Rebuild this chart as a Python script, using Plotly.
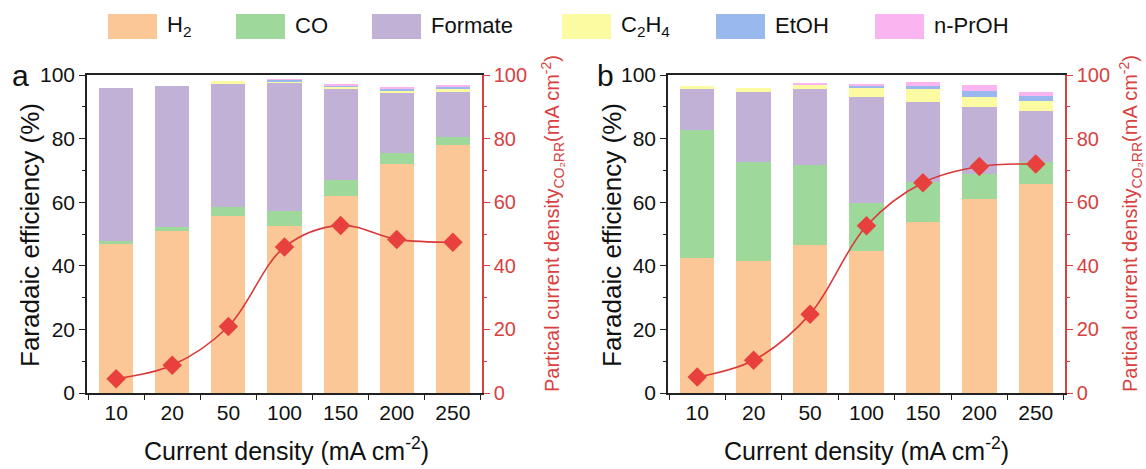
import plotly.graph_objects as go

W, H = 1146, 469

# Current densities (categorical x)
categories = ["10", "20", "50", "100", "150", "200", "250"]

# Panel a: Faradaic efficiencies (%)
a_h2 = [46.9, 50.9, 55.6, 52.4, 61.9, 72.1, 77.9]
a_co = [0.9, 1.2, 2.8, 4.9, 5.0, 3.3, 2.5]
a_formate = [48.0, 44.3, 38.8, 40.2, 28.7, 19.0, 14.3]
a_c2h4 = [0.0, 0.0, 0.9, 0.4, 0.7, 0.8, 0.9]
a_etoh = [0.0, 0.0, 0.0, 0.6, 0.5, 0.6, 0.7]
a_nproh = [0.0, 0.0, 0.0, 0.2, 0.4, 0.4, 0.5]
a_partial = [4.5, 8.7, 20.9, 45.9, 52.7, 48.3, 47.4]

# Panel b: Faradaic efficiencies (%)
b_h2 = [42.6, 41.4, 46.6, 44.8, 53.7, 60.9, 65.6]
b_co = [40.1, 31.1, 25.1, 14.8, 12.5, 8.0, 6.9]
b_formate = [12.9, 22.0, 23.8, 33.6, 25.3, 21.1, 16.3]
b_c2h4 = [0.9, 1.3, 1.4, 2.6, 4.2, 3.2, 2.9]
b_etoh = [0.0, 0.0, 0.0, 0.8, 0.8, 1.8, 1.8]
b_nproh = [0.0, 0.0, 0.3, 0.7, 1.3, 1.7, 1.0]
b_partial = [5.0, 10.3, 24.8, 52.6, 66.1, 71.2, 72.0]

product_names = ["H<sub>2</sub>", "CO", "Formate", "C<sub>2</sub>H<sub>4</sub>", "EtOH", "n-PrOH"]
product_colors = ["#FBC797", "#9FD89B", "#C1B1D6", "#FDFBA2", "#98B8EE", "#FAB5F0"]
line_color = "#D9393A"
marker_color = "#E8403D"
axis_red = "#D94040"

FONT = "Liberation Sans, Arial, sans-serif"

fig = go.Figure()

panels = [
    ("x", "y", "y2", [a_h2, a_co, a_formate, a_c2h4, a_etoh, a_nproh], a_partial),
    ("x2", "y3", "y4", [b_h2, b_co, b_formate, b_c2h4, b_etoh, b_nproh], b_partial),
]

for xa, ya, ya2, series, partial in panels:
    for name, color, vals in zip(product_names, product_colors, series):
        fig.add_trace(go.Bar(
            x=categories, y=vals, name=name, xaxis=xa, yaxis=ya,
            marker=dict(color=color, line=dict(width=0)),
            showlegend=False,
        ))
    fig.add_trace(go.Scatter(
        x=categories, y=partial, xaxis=xa, yaxis=ya2, mode="lines+markers",
        line=dict(color=line_color, width=1.6, shape="spline", smoothing=1.0),
        marker=dict(symbol="diamond", size=15, color=marker_color),
        showlegend=False,
    ))


def px_x(p):
    return p / W


def px_y(p):
    return 1 - p / H


dom_a = [px_x(87), px_x(482)]
dom_b = [px_x(668), px_x(1065)]
dom_y = [px_y(393), px_y(75)]

tick_font = dict(family=FONT, size=21, color="#111111")
red_font = dict(family=FONT, size=20, color=axis_red)


def xaxis_cfg(domain, anchor):
    return dict(
        domain=domain, anchor=anchor, type="category", automargin=False,
        showline=True, linecolor="#222222", linewidth=1.5, mirror=True,
        ticks="outside", tickson="boundaries", ticklen=5, tickcolor="#222222",
        tickfont=tick_font, showgrid=False, zeroline=False,
    )


def yaxis_left(anchor):
    return dict(
        domain=dom_y, anchor=anchor, range=[0, 100], automargin=False,
        showline=True, linecolor="#222222", linewidth=1.5,
        ticks="outside", ticklen=6, tickcolor="#222222", dtick=20,
        minor=dict(ticks="outside", dtick=10, ticklen=3, tickcolor="#222222"),
        tickfont=tick_font, showgrid=False, zeroline=False,
    )


def yaxis_right(anchor, over):
    return dict(
        domain=dom_y, anchor=anchor, overlaying=over, side="right", range=[0, 100],
        automargin=False,
        showline=True, linecolor=axis_red, linewidth=1.5,
        ticks="outside", ticklen=6, tickcolor=axis_red, dtick=20,
        minor=dict(ticks="outside", dtick=10, ticklen=3, tickcolor=axis_red),
        tickfont=red_font, showgrid=False, zeroline=False,
    )


def label(text, x, y, size, color="#111111", angle=0, xanchor="center"):
    return dict(text=text, x=px_x(x), y=px_y(y), xref="paper", yref="paper",
                xanchor=xanchor, yanchor="middle", textangle=angle, showarrow=False,
                font=dict(family=FONT, size=size, color=color))


annotations = []
shapes = []

# Panel letters
annotations.append(label("a", 20, 76, 30))
annotations.append(label("b", 606, 76, 30))

left_title = "Faradaic efficiency (%)"
right_title = "Partical current density<sub>CO₂RR</sub>(mA cm<sup>-2</sup>)"
x_title = "Current density (mA cm<sup>-2</sup>)"

for lx, rx, cx in [(30, 552, 286), (612, 1130, 866)]:
    annotations.append(label(left_title, lx, 235, 26, angle=-90))
    annotations.append(label(right_title, rx, 224, 20, color=axis_red, angle=-90))
    annotations.append(label(x_title, cx, 449, 25))

# Legend row across the top
legend_x = [108, 236, 372, 562, 716, 875]
for x0, name, color in zip(legend_x, product_names, product_colors):
    shapes.append(dict(type="rect", xref="paper", yref="paper",
                       x0=px_x(x0), x1=px_x(x0 + 49), y0=px_y(39), y1=px_y(14),
                       fillcolor=color, line=dict(width=0)))
    annotations.append(label(name, x0 + 57, 26, 22, xanchor="left"))

fig.update_layout(
    width=W, height=H, margin=dict(l=0, r=0, t=0, b=0, autoexpand=False),
    paper_bgcolor="white", plot_bgcolor="white",
    barmode="stack", bargap=0.39,
    xaxis=xaxis_cfg(dom_a, "y"),
    yaxis=yaxis_left("x"),
    yaxis2=yaxis_right("x", "y"),
    xaxis2=xaxis_cfg(dom_b, "y3"),
    yaxis3=yaxis_left("x2"),
    yaxis4=yaxis_right("x2", "y3"),
    annotations=annotations,
    shapes=shapes,
    showlegend=False,
)

fig.write_html("out.html")
